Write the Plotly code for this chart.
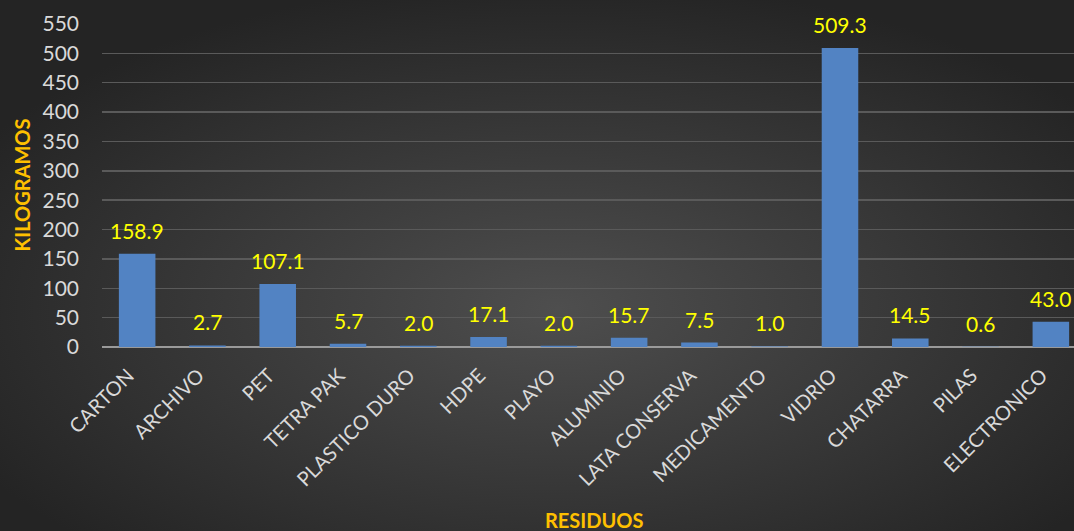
import base64
import plotly.graph_objects as go

categories = ["CARTON", "ARCHIVO", "PET", "TETRA PAK", "PLASTICO DURO", "HDPE", "PLAYO",
              "ALUMINIO", "LATA CONSERVA", "MEDICAMENTO", "VIDRIO", "CHATARRA", "PILAS", "ELECTRONICO"]
values = [158.9, 2.7, 107.1, 5.7, 2.0, 17.1, 2.0, 15.7, 7.5, 1.0, 509.3, 14.5, 0.6, 43.0]
labels = ["158.9", "2.7", "107.1", "5.7", "2.0", "17.1", "2.0", "15.7", "7.5", "1.0", "509.3", "14.5", "0.6", "43.0"]
y_ticks = [0, 50, 100, 150, 200, 250, 300, 350, 400, 450, 500, 550]

W, H = 1074, 531
L, R, T, B = 102, 0, 24, 184
pw, ph = W - L - R, H - T - B
FONT = "Lato, 'Open Sans', sans-serif"

svg = f'''<svg xmlns="http://www.w3.org/2000/svg" width="{W}" height="{H}" viewBox="0 0 {W} {H}" preserveAspectRatio="none">
<defs><radialGradient id="g" cx="52%" cy="58%" r="62%" gradientUnits="objectBoundingBox">
<stop offset="0%" stop-color="#4e4e4e"/><stop offset="100%" stop-color="#242424"/></radialGradient></defs>
<rect x="0" y="0" width="{W}" height="{H}" fill="url(#g)"/></svg>'''
src = "data:image/svg+xml;base64," + base64.b64encode(svg.encode()).decode()

fig = go.Figure()
fig.add_trace(go.Bar(
    x=list(range(len(categories))), y=values, width=0.52,
    marker=dict(color="#5283c3", line=dict(width=0)),
    hoverinfo="skip",
))
for i, (v, t) in enumerate(zip(values, labels)):
    fig.add_annotation(x=i, y=v, text=t, showarrow=False, yanchor="bottom", yshift=9,
                       font=dict(family=FONT, size=21, color="#ffff00"))

fig.add_annotation(xref="paper", yref="paper", x=(21 - L) / pw, y=0.5, text="<b>KILOGRAMOS</b>",
                   textangle=-90, showarrow=False, xanchor="center", yanchor="middle",
                   font=dict(family=FONT, size=20, color="#ffc000"))
fig.add_annotation(xref="paper", yref="paper", x=(594 - L) / pw, y=-(520 - T - ph) / ph, text="<b>RESIDUOS</b>",
                   showarrow=False, xanchor="center", yanchor="middle",
                   font=dict(family=FONT, size=20, color="#ffc000"))

fig.add_layout_image(dict(source=src, xref="paper", yref="paper", x=-L / pw, y=1 + T / ph,
                          sizex=W / pw, sizey=H / ph, sizing="stretch", xanchor="left", yanchor="top",
                          layer="below"))

fig.update_layout(
    width=W, height=H, margin=dict(l=L, r=R, t=T, b=B, pad=0),
    paper_bgcolor="#333333", plot_bgcolor="rgba(0,0,0,0)",
    showlegend=False, bargap=0.48,
    font=dict(family=FONT, color="#d9d9d9"),
    xaxis=dict(tickmode="array", tickvals=list(range(len(categories))), ticktext=categories,
               range=[-0.5, 13.5 - 12 / 70.3], tickangle=-45, showgrid=False, zeroline=False,
               showline=False, ticks="", ticklabelstandoff=12, ticklabelshift=-9,
               tickfont=dict(family=FONT, size=20, color="#d9d9d9")),
    yaxis=dict(range=[0, 550], tickvals=y_ticks, showgrid=True, gridcolor="#5a5a5a", gridwidth=1.5,
               zeroline=True, zerolinecolor="#9a9a9a", zerolinewidth=2.5, showline=False, ticks="",
               ticklabelstandoff=22, tickfont=dict(family=FONT, size=21, color="#d9d9d9")),
)
fig.write_html("out.html", config={"displayModeBar": False, "staticPlot": True},
               post_script="document.body.style.margin='0';document.body.style.overflow='hidden';")
